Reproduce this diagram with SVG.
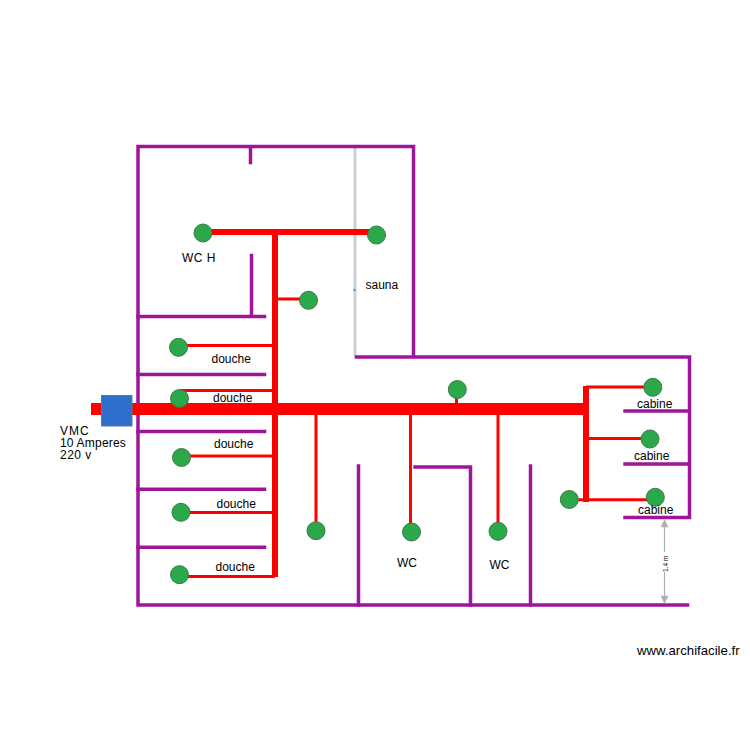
<svg xmlns="http://www.w3.org/2000/svg" width="750" height="750" viewBox="0 0 750 750">
<style>
.wall{stroke:#a0149c;stroke-width:3.500;fill:none;stroke-linecap:square}
.duct{stroke:#ff0000;fill:none}
.d12{stroke-width:12}.d6{stroke-width:6}.d3{stroke-width:3}
.term{fill:#2ba84a;stroke:#3a7a4a;stroke-width:1}
text{font-family:"Liberation Sans",Arial,sans-serif;font-size:12px;fill:#000}
</style>
<defs>
<marker id="dimhead" viewBox="0 0 10 10" refX="9" refY="5" markerWidth="10" markerHeight="8" markerUnits="userSpaceOnUse" orient="auto"><path d="M0 0L10 5L0 10Z" fill="#b0b0b0"/></marker>
</defs>
<rect width="750" height="750" fill="#fff"/>
<path d="M355 148V357" stroke="#cfcfcf" stroke-width="3" fill="none"/>
<circle cx="354.500" cy="290" r="1.200" fill="#5b8fd0"/>
<g id="walls" class="wall">
<path d="M138 146.500H413.500V357M138 146.500V605H687.500M356.500 357H689.500V517.500H625"/>
<path d="M250.500 147V162.500M251.500 255.500V316M138 316.500H264.500M138 374.500H264.500M138 431.500H264.500M138 489.300H264.500M138 547.300H264.500"/>
<path d="M358.500 466V605M415 467H470.500V605M530.500 466V605M625 411H689M625 464H689"/>
</g>
<g id="ducts">
<path class="duct d12" d="M91 409H585"/>
<path class="duct d6" d="M205 232H376M275 232V577M586 386V502"/>
<path class="duct d3" d="M275 299H308M178 345.500H275M180 390.500H275M181 456H275M181 512.500H275M180 576.500H275M316 409V530M410.500 409V532M498 409V531M456.500 389V409M586 387H652M586 438.500H650M569 499.800H655"/>
</g>
<g id="vmc"><rect x="101.500" y="395.500" width="30.500" height="30.500" fill="#2e6fce" stroke="#5a7a9a" stroke-width="1"/></g>
<g id="terminals" class="term">
<circle id="t1" cx="203" cy="233" r="9"/>
<circle id="t2" cx="376.500" cy="235" r="9"/>
<circle id="t3" cx="308.500" cy="300.300" r="9"/>
<circle id="t4" cx="178.500" cy="347.300" r="9"/>
<circle id="t5" cx="179.500" cy="398.500" r="9"/>
<circle id="t6" cx="181.500" cy="457.500" r="9"/>
<circle id="t7" cx="181" cy="512.300" r="9"/>
<circle id="t8" cx="179.500" cy="574.700" r="9"/>
<circle id="t9" cx="316" cy="530.700" r="9"/>
<circle id="t10" cx="411.500" cy="532" r="9"/>
<circle id="t11" cx="498" cy="531.300" r="9"/>
<circle id="t12" cx="457.300" cy="389.500" r="9"/>
<circle id="t13" cx="652.800" cy="387.300" r="9"/>
<circle id="t14" cx="650" cy="439" r="9"/>
<circle id="t15" cx="655.300" cy="497.300" r="9"/>
<circle id="t16" cx="569.300" cy="499.500" r="9"/>
</g>
<g id="dimension" stroke="#b0b0b0" stroke-width="1.200" fill="none">
<path d="M664.500 552V520" marker-end="url(#dimhead)"/>
<path d="M664.500 572V603" marker-end="url(#dimhead)"/>
</g>
<g id="labels">
<text x="182" y="262" letter-spacing="0.500">WC H</text>
<text x="365.500" y="289">sauna</text>
<text x="211.500" y="363">douche</text>
<text x="213" y="402">douche</text>
<text x="214" y="448">douche</text>
<text x="216.500" y="508">douche</text>
<text x="215.500" y="571">douche</text>
<text><tspan x="60" y="434.500" letter-spacing="1">VMC</tspan><tspan x="60" y="447" letter-spacing="0.200">10 Amperes</tspan><tspan x="60" y="459" letter-spacing="0.500">220 v</tspan></text>
<text x="397" y="567">WC</text>
<text x="489.500" y="569">WC</text>
<text x="637" y="408">cabine</text>
<text x="634" y="460">cabine</text>
<text x="638" y="514">cabine</text>
<text transform="translate(668 572) rotate(-90)" style="font-size:6.500px">1.4 m</text>
<text x="637" y="655" style="font-size:13.200px">www.archifacile.fr</text>
</g>
</svg>
